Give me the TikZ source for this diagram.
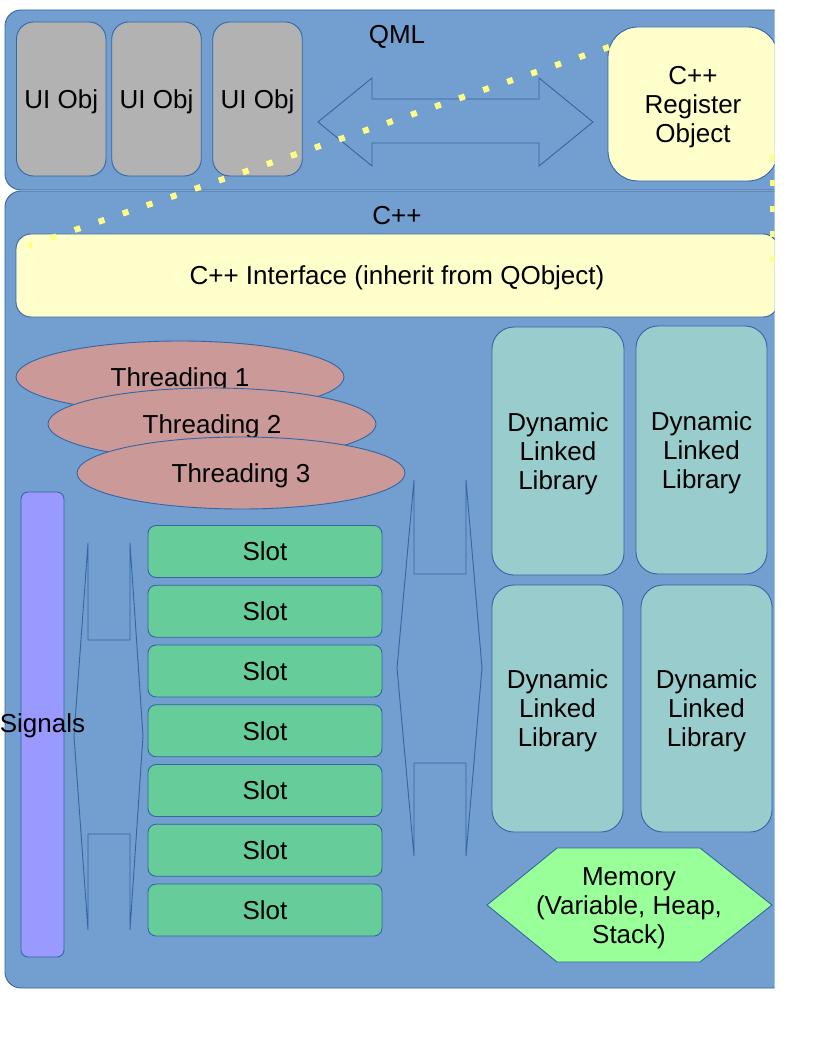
\documentclass[tikz,border=0pt]{standalone}
\usepackage{fontspec}
\setmainfont{Liberation Sans}
\usetikzlibrary{shapes.geometric}
\definecolor{frameblue}{HTML}{729FCF}
\definecolor{edgeblue}{HTML}{3465A4}
\definecolor{uigray}{HTML}{B2B2B2}
\definecolor{lightyel}{HTML}{FFFFCC}
\definecolor{threadred}{HTML}{CC9999}
\definecolor{sigviolet}{HTML}{9999FF}
\definecolor{slotgreen}{HTML}{66CC99}
\definecolor{dllteal}{HTML}{99CCCC}
\definecolor{memgreen}{HTML}{99FF99}
\definecolor{dotyel}{HTML}{FFFF88}
\newcommand{\myhstrut}{\rule{0pt}{24.2pt}}
\begin{document}
\begin{tikzpicture}[x=1pt,y=-1pt,
  every node/.style={font=\fontsize{26}{29}\selectfont, inner sep=0pt, text=black},
  box/.style={draw=edgeblue, line width=0.9pt, rectangle},
  oneline/.style={text height=18.6pt, text depth=0pt},
  framebox/.style={box, fill=frameblue, rounded corners=16pt},
  uibox/.style={box, fill=uigray, rounded corners=17pt, minimum width=89.5pt, minimum height=154pt, oneline},
  yelbox/.style={box, fill=lightyel},
  threadbox/.style={draw=edgeblue, line width=0.9pt, ellipse, fill=threadred, minimum width=328pt, minimum height=72pt, oneline},
  slotbox/.style={box, fill=slotgreen, rounded corners=8pt, minimum width=234pt, minimum height=52pt, oneline},
  dllbox/.style={box, fill=dllteal, rounded corners=22pt, minimum width=131pt, minimum height=247pt, align=center},
  blockarrow/.style={draw=edgeblue, line width=0.9pt, line join=miter},
  dotline/.style={draw=dotyel, line width=6pt, dash pattern=on 6pt off 19.4pt},
]
\useasboundingbox (0,0) rectangle (816,1056);
\clip (0,0) rectangle (774.5,1056);

% frames
\node[framebox, minimum width=790pt, minimum height=180pt] (qml) at (400,100) {};
\node[framebox, minimum width=790pt, minimum height=797pt] (cpp) at (400,589.5) {};
\node[oneline] (qmllabel) at (397,34.5) {QML};
\node[oneline] (cpplabel) at (397,215.5) {C++};

% QML objects
\node[uibox] (ui1) at (61.25,99) {UI Obj};
\node[uibox] (ui2) at (156.5,99) {UI Obj};
\node[uibox] (ui3) at (257.5,99) {UI Obj};

\draw[blockarrow] (318,122) -- (372,78) -- (372,99) -- (539,99) -- (539,78) -- (593,122)
  -- (539,166) -- (539,143) -- (372,143) -- (372,166) -- cycle;

\node[yelbox, rounded corners=30pt, minimum width=170pt, minimum height=154pt, align=center] (reg) at (693,104) {\myhstrut C++\\Register\\Object};

% C++ part
\node[yelbox, rounded corners=15pt, minimum width=762pt, minimum height=83pt, oneline] (iface) at (397,275.5) {C++ Interface (inherit from QObject)};

\node[threadbox] (th1) at (180,377) {Threading 1};
\node[threadbox] (th2) at (212,424) {Threading 2};
\node[threadbox] (th3) at (241,473) {Threading 3};

\node[box, fill=sigviolet, rounded corners=7pt, minimum width=43pt, minimum height=465pt] (sigbar) at (42.5,724.5) {};

\draw[blockarrow] (74,736) -- (88,543) -- (88,640) -- (130,640) -- (130,543) -- (143,736)
  -- (130,930) -- (130,834) -- (88,834) -- (88,930) -- cycle;

\node[oneline] (siglabel) at (42.5,723) {Signals};

\foreach \i in {1,...,7}{
  \node[slotbox] (slot\i) at (265,{551.5+59.75*(\i-1)}) {Slot};
}

\draw[blockarrow] (397,668) -- (414,480) -- (414,574) -- (466,574) -- (466,480) -- (482,668)
  -- (466,856) -- (466,763) -- (414,763) -- (414,856) -- cycle;

\node[dllbox, minimum width=132pt, minimum height=248pt] (dll1) at (558,451) {\myhstrut Dynamic\\Linked\\Library};
\node[dllbox, minimum height=248pt] (dll2) at (701.5,450) {\myhstrut Dynamic\\Linked\\Library};
\node[dllbox] (dll3) at (557.5,708.5) {\myhstrut Dynamic\\Linked\\Library};
\node[dllbox] (dll4) at (706.5,708.5) {\myhstrut Dynamic\\Linked\\Library};

\draw[draw=edgeblue, line width=0.9pt, fill=memgreen] (487,905) -- (557,848) -- (700,848) -- (772,905) -- (700,962) -- (557,962) -- cycle;
\node[align=center] (mem) at (629,905) {\myhstrut Memory\\(Variable, Heap,\\Stack)};

% dotted links
\coordinate (dotA) at (609,47);
\coordinate (dotB) at (28,246);
\coordinate (dotC) at (773,155);
\coordinate (dotD) at (773,262);
\draw[dotline] (dotA) -- (dotB);
\draw[dotline] (dotC) -- (dotD);
\end{tikzpicture}
\end{document}
